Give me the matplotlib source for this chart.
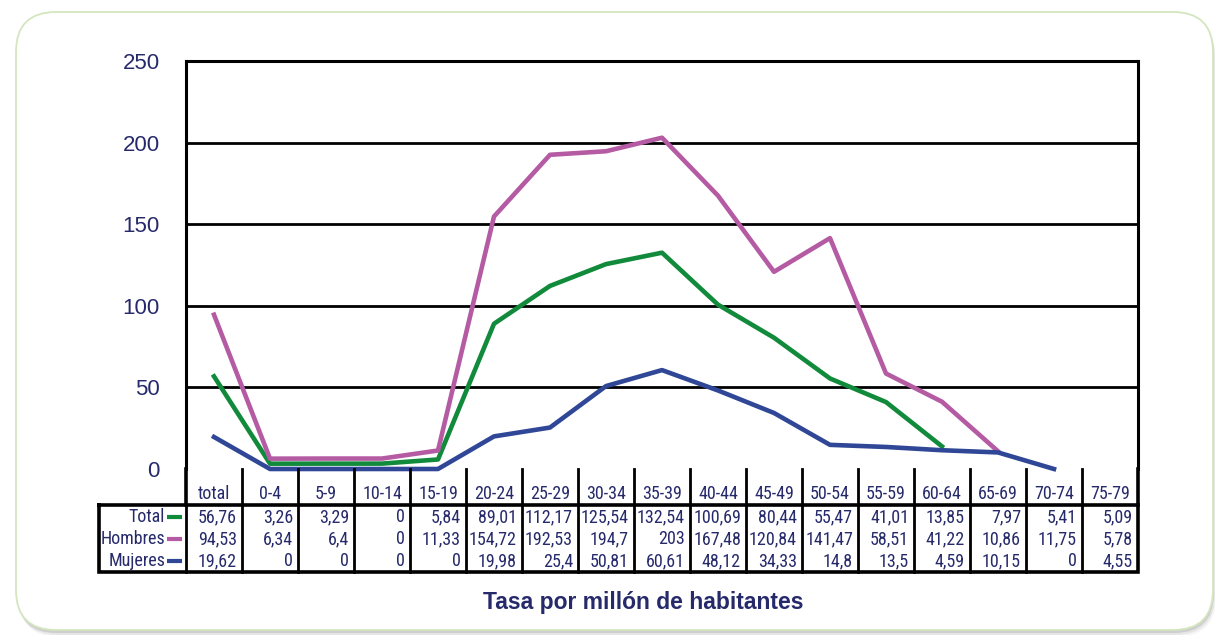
import matplotlib
matplotlib.use('Agg')
import matplotlib.pyplot as plt
import numpy as np
from matplotlib.patches import FancyBboxPatch
from matplotlib.font_manager import fontManager

categories = ["total", "0-4", "5-9", "10-14", "15-19", "20-24", "25-29", "30-34",
              "35-39", "40-44", "45-49", "50-54", "55-59", "60-64", "65-69", "70-74", "75-79"]
total_txt = ["56,76", "3,26", "3,29", "0", "5,84", "89,01", "112,17", "125,54", "132,54",
             "100,69", "80,44", "55,47", "41,01", "13,85", "7,97", "5,41", "5,09"]
hombres_txt = ["94,53", "6,34", "6,4", "0", "11,33", "154,72", "192,53", "194,7", "203",
               "167,48", "120,84", "141,47", "58,51", "41,22", "10,86", "11,75", "5,78"]
mujeres_txt = ["19,62", "0", "0", "0", "0", "19,98", "25,4", "50,81", "60,61",
               "48,12", "34,33", "14,8", "13,5", "4,59", "10,15", "0", "4,55"]

# line values as drawn in the picture (they stop early and differ a little from the table)
line_total = [56.76, 3.26, 3.29, 3.3, 5.84, 89.01, 112.17, 125.54, 132.54, 100.69, 80.44,
              55.47, 41.01, 13.85]
line_hombres = [94.53, 6.34, 6.4, 6.4, 11.33, 154.72, 192.53, 194.7, 203, 167.48, 120.84,
                141.47, 58.51, 41.22, 10.86]
line_mujeres = [19.62, 0, 0, 0, 0, 19.98, 25.4, 50.81, 60.61, 48.12, 34.33,
                14.8, 13.5, 11.5, 10.15, 0]
yticks = [0, 50, 100, 150, 200, 250]

GREEN = "#128a3c"
PINK = "#b45ba3"
BLUE = "#2f4796"
NAVY = "#262a6b"

# pick a condensed sans for the narrow table font
narrow_kw = {"family": "Liberation Sans"}
for pref in ("Liberation Sans Narrow", "Roboto Condensed", "Archivo Narrow",
             "Open Sans Condensed", "Noto Sans Condensed"):
    if any(pref == f.name for f in fontManager.ttflist):
        narrow_kw = {"family": pref}
        break
else:
    if any(f.name == "DejaVu Sans" and f.stretch == "condensed" for f in fontManager.ttflist):
        narrow_kw = {"family": "DejaVu Sans", "stretch": "condensed"}

W, H = 1215, 635
fig = plt.figure(figsize=(W / 100, H / 100), dpi=100)
fig.patch.set_facecolor("white")

def px(x0, y0, x1, y1):
    # pixel box (top-left origin) -> figure fraction rect
    return [x0 / W, 1 - y1 / H, (x1 - x0) / W, (y1 - y0) / H]

# rounded frame with soft shadow at the bottom
bg = fig.add_axes([0, 0, 1, 1])
bg.set_xlim(0, W)
bg.set_ylim(H, 0)
bg.axis("off")
for dx, dy, a in [(3, 7, 0.04), (2, 5, 0.06), (1, 3, 0.10)]:
    bg.add_patch(FancyBboxPatch((16 + dx, 12 + dy), 1197, 618,
                                boxstyle="round,pad=0,rounding_size=40",
                                fc=(0, 0, 0, a), ec="none"))
bg.add_patch(FancyBboxPatch((16, 12), 1197, 618, boxstyle="round,pad=0,rounding_size=40",
                            fc="white", ec="#d3e6bf", lw=1.3))

# main plot
x = np.arange(len(categories))
ax = fig.add_axes(px(186, 61, 1138, 469))
ax.set_xlim(-0.5, len(categories) - 0.5)
ax.set_ylim(0, 250)
ax.set_yticks(yticks)
ax.set_yticklabels([str(v) for v in yticks], fontsize=16, color=NAVY,
                   family="Liberation Sans")
ax.tick_params(axis="y", length=0, pad=19)
ax.set_xticks([])
for v in yticks[1:-1]:
    ax.axhline(v, color="black", lw=2, zorder=1)
for s in ax.spines.values():
    s.set_linewidth(2.2)
    s.set_color("black")
ax.spines["bottom"].set_visible(False)

lines = [(line_total, GREEN), (line_hombres, PINK), (line_mujeres, BLUE)]
for vals, col in lines:
    ax.plot(x[:len(vals)], vals, color=col, lw=3.3, zorder=3, clip_on=False)

# table under the plot (x in category units, y in pixels)
cw = 952 / len(categories)
tx0 = -0.5 - (186 - 99) / cw
tab = fig.add_axes(px(99, 469, 1138, 573))
tab.set_xlim(tx0, len(categories) - 0.5)
tab.set_ylim(573, 469)
tab.axis("off")

lw_out, lw_in = 2.6, 2.0
edges = np.arange(len(categories) + 1) - 0.5
fs_tab = 13
# header row
for e in edges:
    tab.plot([e, e], [469, 505], color="black", lw=lw_out if e in (edges[0], edges[-1]) else lw_in,
             clip_on=False)
for xi, c in zip(x, categories):
    tab.text(xi, 494, c, ha="center", va="center", fontsize=fs_tab, color=NAVY, **narrow_kw)
# data block
tab.plot([tx0, edges[-1], edges[-1], tx0, tx0], [505, 505, 572, 572, 505], color="black",
         lw=lw_out, clip_on=False, solid_joinstyle="miter")
for e in edges[:-1]:
    tab.plot([e, e], [505, 572], color="black", lw=lw_in, clip_on=False)

rows = [("Total", total_txt, GREEN), ("Hombres", hombres_txt, PINK),
        ("Mujeres", mujeres_txt, BLUE)]
row_y = [517, 539, 561]
for (name, txts, col), ry in zip(rows, row_y):
    tab.text(edges[0] - 21 / cw, ry, name, ha="right", va="center", fontsize=fs_tab,
             color=NAVY, **narrow_kw)
    tab.plot([edges[0] - 19 / cw, edges[0] - 4 / cw], [ry, ry], color=col, lw=3,
             solid_capstyle="butt")
    for xi, t in zip(x, txts):
        tab.text(xi + 0.5 - 5 / cw, ry, t, ha="right", va="center", fontsize=fs_tab,
                 color=NAVY, **narrow_kw)

fig.text(643 / W, 1 - 603 / H, "Tasa por millón de habitantes", ha="center", va="center",
         fontsize=16.5, fontweight="bold", color=NAVY, family="Liberation Sans")

fig.savefig("out.png", dpi=100)
